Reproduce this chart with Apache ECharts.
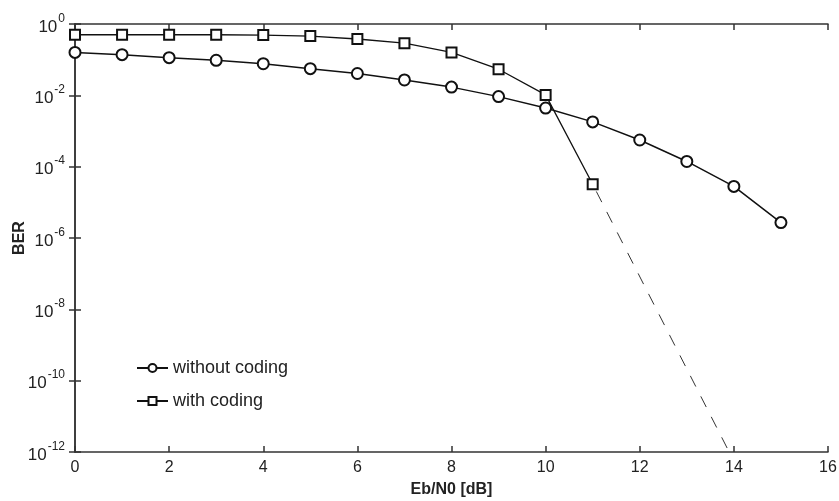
<!DOCTYPE html>
<html>
<head>
<meta charset="utf-8">
<script src="https://cdn.jsdelivr.net/npm/echarts@6/dist/echarts.min.js"></script>
<style>html,body{margin:0;padding:0;background:#fff}#c{width:839px;height:501px}</style>
</head>
<body>
<div id="c"></div>
<script>
const snr = [0,1,2,3,4,5,6,7,8,9,10,11,12,13,14,15];
const berUncoded = [0.16,0.138,0.114,0.096,0.077,0.056,0.041,0.027,0.017,0.0092,0.0044,0.0018,5.6e-4,1.4e-4,2.8e-5,2.7e-6];
const snrCoded = [0,1,2,3,4,5,6,7,8,9,10,11];
const berCoded = [0.5,0.5,0.5,0.5,0.49,0.46,0.38,0.29,0.16,0.054,0.0103,3.2e-5];
const snrExtrap = [11,13.9];
const berExtrap = [3.2e-5,1e-12];
const xTicks = [0,2,4,6,8,10,12,14,16];
const yExponents = [0,-2,-4,-6,-8,-10,-12];

const FONT = 'Liberation Sans, Arial, sans-serif';
const chart = echarts.init(document.getElementById('c'));
const axisLine = {show:true, lineStyle:{color:'#333', width:1.5}};
const tick = {show:true, inside:true, length:6, lineStyle:{color:'#333', width:1.5}};

chart.setOption({
  animation:false,
  grid:{left:75, top:24, right:11, bottom:49, containLabel:false, outerBoundsMode:'none'},
  legend:{
    orient:'vertical', left:131, top:354, itemGap:15,
    itemWidth:31, itemHeight:10,
    data:['without coding','with coding'],
    textStyle:{fontFamily:FONT, fontSize:18, color:'#222', padding:[0,0,0,0]}
  },
  xAxis:[{
    type:'value', min:0, max:16, interval:2,
    name:'Eb/N0 [dB]', nameLocation:'middle', nameGap:30, nameMoveOverlap:false,
    nameTextStyle:{fontFamily:FONT, fontSize:16, fontWeight:'bold', color:'#222'},
    axisLine:axisLine, axisTick:tick, splitLine:{show:false},
    axisLabel:{fontFamily:FONT, fontSize:16, color:'#222', margin:8,
      formatter:v=>xTicks.includes(v)?String(v):''}
  },{
    type:'value', min:0, max:16, interval:2, position:'top',
    axisLine:axisLine, axisTick:tick, axisLabel:{show:false}, splitLine:{show:false}
  }],
  yAxis:[{
    type:'log', logBase:10, min:1e-12, max:1, interval:2,
    name:'BER', nameLocation:'middle', nameGap:47, nameMoveOverlap:false,
    nameTextStyle:{fontFamily:FONT, fontSize:16, fontWeight:'bold', color:'#222'},
    axisLine:axisLine, axisTick:tick, splitLine:{show:false},
    axisLabel:{
      margin:10,
      formatter:v=>{
        const e = Math.round(Math.log10(v));
        return yExponents.includes(e) ? '{b|10}{s|' + e + '}' : '';
      },
      rich:{
        b:{fontFamily:FONT, fontSize:17, color:'#222', verticalAlign:'bottom', padding:[6,0,0,0]},
        s:{fontFamily:FONT, fontSize:12, color:'#222', verticalAlign:'top', padding:[0,0,8,1]}
      }
    }
  },{
    type:'log', logBase:10, min:1e-12, max:1, interval:2, position:'right',
    axisLine:axisLine, axisTick:tick, axisLabel:{show:false}, splitLine:{show:false}
  }],
  series:[{
    name:'without coding', type:'line',
    data:snr.map((x,i)=>[x,berUncoded[i]]),
    color:'#111', symbol:'emptyCircle', symbolSize:11,
    lineStyle:{width:1.5, color:'#111'},
    itemStyle:{borderWidth:1.2, color:'#111'}
  },{
    name:'with coding', type:'line',
    data:snrCoded.map((x,i)=>[x,berCoded[i]]),
    color:'#111', symbol:'emptyRect', symbolSize:10,
    lineStyle:{width:1.3, color:'#111'},
    itemStyle:{borderWidth:1.2, color:'#111'}
  },{
    name:'extrapolation', type:'line',
    data:snrExtrap.map((x,i)=>[x,berExtrap[i]]),
    symbol:'none', silent:true,
    lineStyle:{width:1, color:'#333', type:[12,11], dashOffset:-8}
  }]
});
</script>
</body>
</html>
